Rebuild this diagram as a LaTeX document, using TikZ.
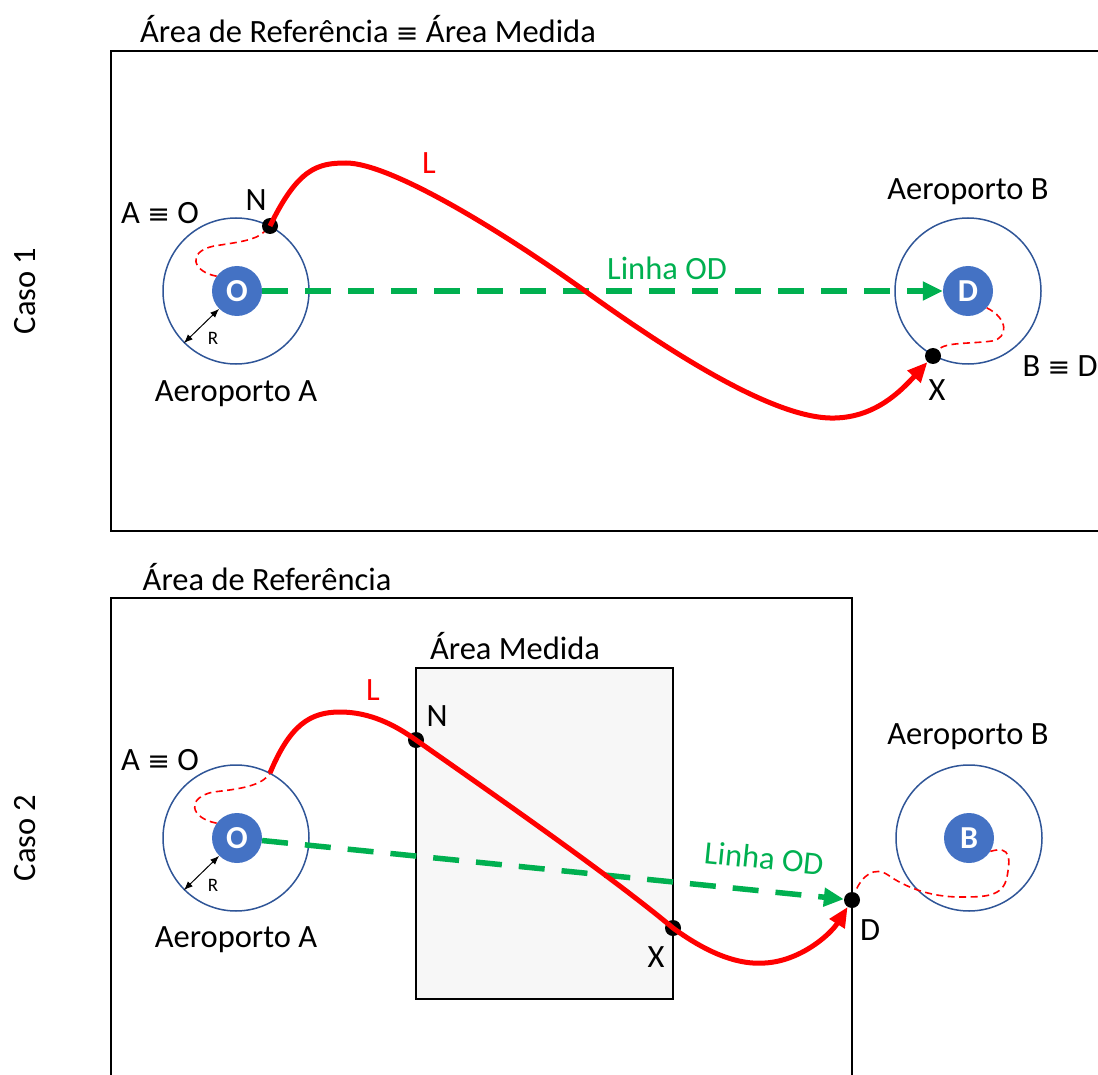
\documentclass[tikz,border=0pt]{standalone}
\usepackage{fontspec}
\setmainfont{Carlito}
\newfontfamily\symb{DejaVu Sans}
\usepackage{xcolor}
\usepackage{tikz}
\usetikzlibrary{arrows.meta, positioning, calc}
\definecolor{azulnucleo}{HTML}{4472C4}
\definecolor{azulborda}{HTML}{2F5597}
\definecolor{verdeod}{HTML}{00B050}
\newcommand{\eqv}{{\symb\fontsize{27}{27}\selectfont ≡}}

\begin{document}
\begin{tikzpicture}[x=1pt, y=-1pt,
    rotulo/.style={font=\fontsize{32.5}{38}\selectfont, inner sep=0pt},
    aeroporto/.style={circle, draw=azulborda, line width=1.5pt, minimum size=146pt, inner sep=0pt},
    nucleo/.style={circle, fill=azulnucleo, text=white, minimum size=50pt, inner sep=0pt,
        font=\fontsize{32}{36}\selectfont\bfseries},
    ponto/.style={circle, fill=black, minimum size=16pt, inner sep=0pt},
    caixa/.style={draw=black, line width=2pt},
    linhaod/.style={verdeod, line width=5.5pt, dash pattern=on 26pt off 17pt,
        -{Triangle[length=20pt, width=18pt]}},
    trajeto/.style={red, line width=5pt, -{Triangle[length=20pt, width=17pt]}},
    desvio/.style={red, line width=1.6pt, dash pattern=on 7pt off 4.5pt},
    raio/.style={black, line width=1pt, {Latex[length=9pt, width=7pt]}-{Latex[length=9pt, width=7pt]}}]
    \useasboundingbox (0, 0) rectangle (1098, 1075);
    \clip (0, 0) rectangle (1098, 1075);

    % Caso 1
    \begin{scope}
        \draw[caixa] (111, 51) rectangle (1130, 531);
        \node[rotulo] (titulo1) at (368, 29) {Área de Referência \eqv{} Área Medida};
        \node[rotulo, rotate=90] (caso1) at (25, 291) {Caso 1};

        \node[aeroporto] (A1) at (236, 291) {};
        \node[nucleo] (O1) at (237, 291) {O};
        \node[aeroporto] (B1) at (968, 291) {};
        \node[nucleo] (D1) at (968, 291) {D};
        \node[ponto] (N1) at (270, 226) {};
        \node[ponto] (X1) at (933, 356) {};

        \node[rotulo] (eqA1) at (160, 213) {A \eqv{} O};
        \node[rotulo] (lN1) at (256, 200) {N};
        \node[rotulo, text=red] (lL1) at (429, 163) {L};
        \node[rotulo, text=verdeod] (lOD1) at (667, 268) {Linha OD};
        \node[rotulo] (aeroB1) at (968, 192) {Aeroporto B};
        \node[rotulo] (lX1) at (937, 390) {X};
        \node[rotulo] (eqB1) at (1060, 366) {B \eqv{} D};
        \node[rotulo] (aeroA1) at (236, 394) {Aeroporto A};
        \node[rotulo, font=\fontsize{19}{22}\selectfont] (lR1) at (213, 338) {R};

        \draw[raio] (A1.225) -- (O1.225);
        \draw[linhaod] (O1) -- (D1);
        \draw[desvio] (O1.144) .. controls (193, 272) and (186, 252) .. (214, 246)
            .. controls (240, 242) and (256, 240) .. (N1);
        \draw[desvio] (D1.-42) .. controls (1008, 318) and (1009, 338) .. (992, 341)
            .. controls (970, 344) and (945, 342) .. (X1);
        \draw[trajeto] (N1.center) .. controls (298, 168) and (318, 163) .. (346, 163)
            .. controls (390, 163) and (500, 230) .. (585, 291)
            .. controls (670, 352) and (775, 420) .. (835, 418)
            .. controls (875, 417) and (900, 392) .. (X1);
    \end{scope}

    % Caso 2
    \begin{scope}
        \draw[caixa] (111, 598) rectangle (852, 1120);
        \draw[caixa, line width=1.5pt, fill=black!3] (416, 668) rectangle (673, 999);
        \node[rotulo] (titulo2) at (267, 577) {Área de Referência};
        \node[rotulo] (medida2) at (515, 646) {Área Medida};
        \node[rotulo, rotate=90] (caso2) at (25, 838) {Caso 2};

        \node[aeroporto] (A2) at (236, 838) {};
        \node[nucleo] (O2) at (237, 838) {O};
        \node[aeroporto] (B2) at (969, 838) {};
        \node[nucleo] (Bn2) at (969, 838) {B};
        \node[ponto] (N2) at (416, 740) {};
        \node[ponto] (X2) at (673, 928) {};
        \node[ponto] (D2) at (852, 900) {};
        \coordinate (E2) at (270, 773);

        \node[rotulo] (eqA2) at (160, 760) {A \eqv{} O};
        \node[rotulo, text=red] (lL2) at (373, 690) {L};
        \node[rotulo] (lN2) at (437, 716) {N};
        \node[rotulo] (aeroB2) at (968, 737) {Aeroporto B};
        \node[rotulo, text=verdeod, rotate=-5.8] (lOD2) at (764, 858) {Linha OD};
        \node[rotulo] (lX2) at (656, 957) {X};
        \node[rotulo] (lD2) at (870, 930) {D};
        \node[rotulo] (aeroA2) at (236, 940) {Aeroporto A};
        \node[rotulo, font=\fontsize{19}{22}\selectfont] (lR2) at (213, 885) {R};

        \draw[raio] (A2.225) -- (O2.225);
        \draw[linhaod] (O2) -- (D2);
        \draw[desvio] (O2.144) .. controls (190, 818) and (186, 798) .. (213, 792)
            .. controls (240, 789) and (262, 786) .. (E2);
        \draw[desvio] (Bn2.-32) .. controls (1012, 845) and (1010, 860) .. (1007, 877)
            .. controls (1003, 897) and (985, 897) .. (960, 897)
            .. controls (930, 897) and (905, 887) .. (888, 875)
            .. controls (875, 866) and (862, 875) .. (D2);
        \draw[trajeto] (E2) .. controls (290, 725) and (310, 712) .. (340, 712)
            .. controls (370, 712) and (395, 725) .. (N2.center)
            .. controls (480, 785) and (610, 875) .. (X2.center)
            .. controls (710, 955) and (740, 965) .. (765, 963)
            .. controls (800, 961) and (830, 935) .. (D2);
    \end{scope}
\end{tikzpicture}
\end{document}
